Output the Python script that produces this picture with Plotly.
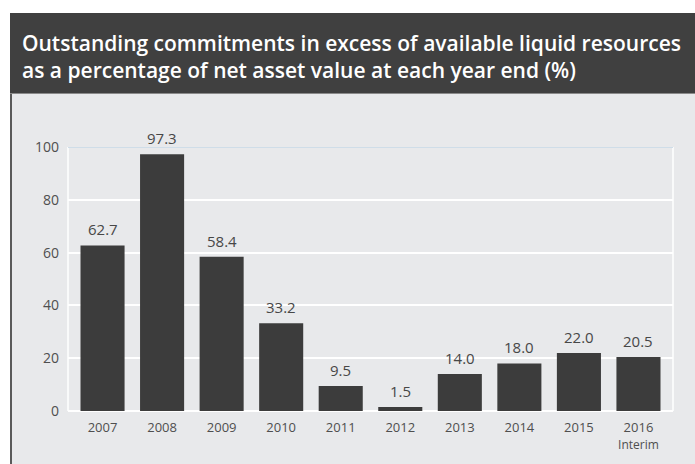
import plotly.graph_objects as go

# Data
years = ["2007", "2008", "2009", "2010", "2011", "2012", "2013", "2014", "2015", "2016"]
tick_labels = ["2007", "2008", "2009", "2010", "2011", "2012", "2013", "2014", "2015",
               "2016<br><span style='font-size:12px'>Interim</span>"]
values = [62.7, 97.3, 58.4, 33.2, 9.5, 1.5, 14.0, 18.0, 22.0, 20.5]
y_ticks = [0, 20, 40, 60, 80, 100]

W, H = 695, 464
BODY_BG = "#e8e9eb"
HEADER_BG = "#404040"
BAR = "#3c3c3c"
LABEL = "#474747"
TICK = "#4f4f4f"

def px_x(x):
    return x / W

def px_y(y):
    return 1 - y / H

fig = go.Figure()
fig.add_trace(go.Bar(
    x=years, y=values,
    marker=dict(color=BAR, line=dict(width=0)),
    width=0.74,
    hoverinfo="skip",
))

# value labels above each bar (category index positions)
value_labels = [dict(
    x=i, y=v, xref="x", yref="y", text=f"{v:.1f}",
    showarrow=False, xanchor="center", yanchor="bottom", yshift=4,
    font=dict(family="Open Sans", size=15, color=LABEL),
) for i, v in enumerate(values)]

title = dict(
    xref="paper", yref="paper", x=px_x(20), y=px_y(57),
    xanchor="left", yanchor="middle", align="left", showarrow=False,
    text="Outstanding commitments in excess of available liquid resources<br>"
         "as a percentage of net asset value at each year end (%)",
    font=dict(family="Open Sans", size=21, color="white", weight=600),
)

shapes = [
    # grey body
    dict(type="rect", xref="paper", yref="paper", layer="below",
         x0=px_x(10), x1=1, y0=0, y1=px_y(93),
         fillcolor=BODY_BG, line=dict(width=0)),
    # left border of body
    dict(type="line", xref="paper", yref="paper", layer="below",
         x0=px_x(11), x1=px_x(11), y0=0, y1=px_y(93),
         line=dict(color="#5a5a5a", width=2)),
    # header band
    dict(type="rect", xref="paper", yref="paper", layer="below",
         x0=px_x(10), x1=1, y0=px_y(93), y1=px_y(13),
         fillcolor=HEADER_BG, line=dict(width=0)),
    dict(type="line", xref="paper", yref="paper", layer="below",
         x0=px_x(10), x1=1, y0=px_y(93.5), y1=px_y(93.5),
         line=dict(color="#8a8a8a", width=1)),
    # plot frame lines
    dict(type="line", xref="paper", yref="y", layer="below",
         x0=px_x(68), x1=px_x(68), y0=0, y1=100,
         line=dict(color="white", width=1.5)),
    dict(type="line", xref="paper", yref="y", layer="below",
         x0=px_x(673), x1=px_x(673), y0=0, y1=100,
         line=dict(color="white", width=1.5)),
    dict(type="line", xref="paper", yref="y", layer="below",
         x0=px_x(68), x1=px_x(673), y0=100, y1=100,
         line=dict(color="#cfdde8", width=2)),
]

fig.update_layout(
    width=W, height=H,
    autosize=False,
    margin=dict(l=0, r=0, t=0, b=0, pad=0),
    paper_bgcolor="white",
    plot_bgcolor="rgba(0,0,0,0)",
    showlegend=False,
    shapes=shapes,
    annotations=[title] + value_labels,
    xaxis=dict(
        type="category",
        domain=[px_x(68), px_x(673)],
        range=[-0.58, 9.58],
        automargin=False,
        tickmode="array", tickvals=years, ticktext=tick_labels,
        tickfont=dict(family="Open Sans", size=13, color=TICK),
        showgrid=False, zeroline=False, showline=False,
        ticks="", ticklabelstandoff=7,
    ),
    yaxis=dict(
        domain=[px_y(411), px_y(147)],
        range=[0, 100],
        automargin=False,
        tickvals=y_ticks,
        tickfont=dict(family="Open Sans", size=14, color=TICK),
        showgrid=True, gridcolor="white", gridwidth=1.5,
        zeroline=True, zerolinecolor="white", zerolinewidth=2,
        showline=False, ticks="", ticklabelstandoff=8,
    ),
)

fig.write_html("out.html")
